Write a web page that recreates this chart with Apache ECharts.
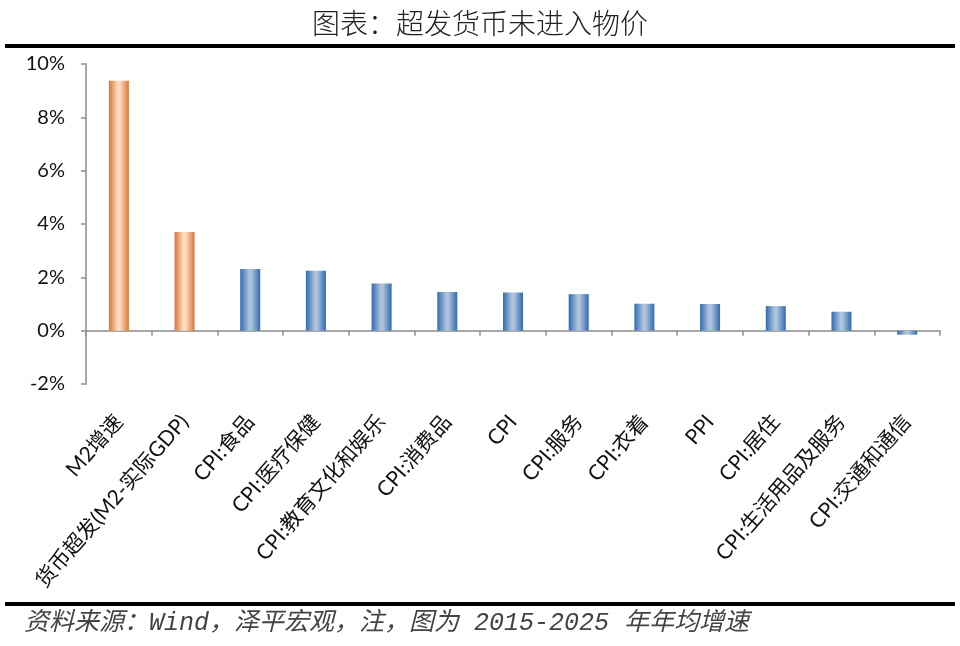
<!DOCTYPE html>
<html>
<head>
<meta charset="utf-8">
<script src="https://cdn.jsdelivr.net/npm/echarts@6/dist/echarts.min.js"></script>
<style>
html,body{margin:0;padding:0;background:#fff;}
#c{width:960px;height:646px;}
</style>
</head>
<body>
<div id="c"></div>
<script>
const titleText = '图表：超发货币未进入物价';
const sourceText = '资料来源：Wind，泽平宏观，注，图为 2015-2025 年年均增速';
const categories = ['M2增速','货币超发(M2-实际GDP)','CPI:食品','CPI:医疗保健','CPI:教育文化和娱乐','CPI:消费品','CPI','CPI:服务','CPI:衣着','PPI','CPI:居住','CPI:生活用品及服务','CPI:交通和通信'];
const values = [9.37, 3.70, 2.31, 2.25, 1.77, 1.45, 1.43, 1.37, 1.01, 1.00, 0.92, 0.71, -0.15];
const highlighted = [true, true, false, false, false, false, false, false, false, false, false, false, false];
const yTicks = { min: -2, max: 10, interval: 2 };

function grad(edge, mid) {
  return new echarts.graphic.LinearGradient(0, 0, 1, 0, [
    { offset: 0, color: edge },
    { offset: 0.45, color: mid },
    { offset: 0.55, color: mid },
    { offset: 1, color: edge }
  ]);
}
const orangeFill = grad('#D9763A', '#FDDCC2');
const blueFill = grad('#2F6BB0', '#AFC3DB');

const chart = echarts.init(document.getElementById('c'), null, { renderer: 'canvas' });
const axisColor = '#8C8C8C';
const labelFont = 'Lato, "Noto Sans CJK SC", sans-serif';

chart.setOption({
  animation: false,
  backgroundColor: '#fff',
  grid: { left: 86, right: 20, top: 64, bottom: 262, containLabel: false },
  xAxis: {
    type: 'category',
    data: categories,
    axisLine: { onZero: true, lineStyle: { color: axisColor, width: 1.5 } },
    axisTick: { show: true, length: 5, lineStyle: { color: axisColor, width: 1.5 } },
    axisLabel: {
      rotate: 49, interval: 0, margin: 34,
      color: '#111', fontSize: 21, fontFamily: labelFont
    },
    splitLine: { show: false }
  },
  yAxis: {
    type: 'value',
    min: yTicks.min, max: yTicks.max, interval: yTicks.interval,
    axisLine: { show: true, lineStyle: { color: axisColor, width: 1.5 } },
    axisTick: { show: true, length: 5, lineStyle: { color: axisColor, width: 1.5 } },
    axisLabel: { formatter: '{value}%', color: '#111', fontSize: 20, fontFamily: labelFont, margin: 21 },
    splitLine: { show: false }
  },
  series: [{
    type: 'bar',
    barWidth: 20,
    data: values.map((v, i) => ({
      value: v,
      itemStyle: { color: highlighted[i] ? orangeFill : blueFill }
    }))
  }],
  graphic: [
    { type: 'text', left: 'center', top: 9, style: { text: titleText, fontSize: 28, fontFamily: '"Noto Sans CJK SC", sans-serif', fontWeight: 300, fill: '#222' } },
    { type: 'rect', shape: { x: 5, y: 44, width: 950, height: 4 }, style: { fill: '#000' } },
    { type: 'rect', shape: { x: 5, y: 602, width: 950, height: 4 }, style: { fill: '#000' } },
    { type: 'text', left: 24, top: 611, style: { text: sourceText, fontSize: 25, fontStyle: 'italic', fontFamily: '"Liberation Mono", "Noto Sans CJK SC", monospace', fill: '#444' } }
  ]
});
</script>
</body>
</html>
